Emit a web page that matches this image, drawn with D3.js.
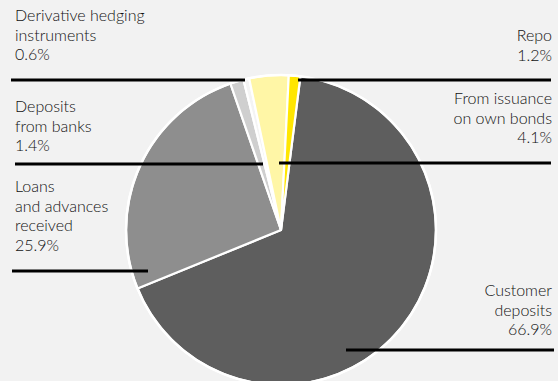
<!DOCTYPE html>
<html>
<head>
<meta charset="utf-8">
<script src="https://cdn.jsdelivr.net/npm/d3@7"></script>
<style>
  html, body { margin: 0; padding: 0; background: #f2f2f2; }
  svg { display: block; }
  text { font-family: Lato, "Open Sans", sans-serif; font-size: 16px; font-weight: 300; fill: #111111; }
</style>
</head>
<body>
<svg id="chart" width="558" height="381"></svg>
<script>
// Funding sources, in drawing order (clockwise)
const categories = [
  "Customer deposits",
  "Loans and advances received",
  "Deposits from banks",
  "Derivative hedging instruments",
  "From issuance on own bonds",
  "Repo"
];
const shares = [66.9, 25.9, 1.4, 0.6, 4.1, 1.2];
const valueLabels = ["66.9%", "25.9%", "1.4%", "0.6%", "4.1%", "1.2%"];
const labelLines = [
  ["Customer", "deposits"],
  ["Loans", "and advances", "received"],
  ["Deposits", "from banks"],
  ["Derivative hedging", "instruments"],
  ["From issuance", "on own bonds"],
  ["Repo"]
];
const colors = ["#5e5e5e", "#8e8e8e", "#cfcfcf", "#f4f4f4", "#fff6a6", "#ffe600"];

const W = 558, H = 381;
const cx = 281, cy = 230, R = 155;
const svg = d3.select("#chart");

svg.append("rect").attr("width", W).attr("height", H).attr("fill", "#f2f2f2");

const start = 7.2 * Math.PI / 180;
const pie = d3.pie().sort(null).value(d => d)
  .startAngle(start).endAngle(start + 2 * Math.PI);
const arc = d3.arc().innerRadius(0).outerRadius(R);

const g = svg.append("g").attr("transform", `translate(${cx},${cy})`);
g.selectAll("path")
  .data(pie(shares))
  .join("path")
  .attr("d", arc)
  .attr("fill", (d, i) => colors[i])
  .attr("stroke", "#ffffff")
  .attr("stroke-width", 2.2)
  .attr("stroke-linejoin", "round");

g.append("circle").attr("r", R).attr("fill", "none")
  .attr("stroke", "#ffffff").attr("stroke-width", 2.5);

// Label blocks: anchor side, x, first baseline; then leader line
const lineGap = 19.6;
const layout = [
  { side: "end",   x: 552, y: 296, line: [346, 554, 350] },
  { side: "start", x: 15,  y: 192, line: [12, 148, 271] },
  { side: "start", x: 15,  y: 112, line: [15, 263, 164] },
  { side: "start", x: 15,  y: 21,  line: [11, 245, 80] },
  { side: "end",   x: 552, y: 104, line: [279, 551, 163] },
  { side: "end",   x: 552, y: 41,  line: [298, 551, 80] }
];

categories.forEach((c, i) => {
  const L = layout[i];
  const rows = labelLines[i].concat([valueLabels[i]]);
  const t = svg.append("text").attr("text-anchor", L.side);
  rows.forEach((r, k) => {
    t.append("tspan").attr("x", L.x).attr("y", L.y + k * lineGap).text(r);
  });
  svg.append("line")
    .attr("x1", L.line[0]).attr("x2", L.line[1])
    .attr("y1", L.line[2]).attr("y2", L.line[2])
    .attr("stroke", "#000").attr("stroke-width", 3);
});
</script>
</body>
</html>
